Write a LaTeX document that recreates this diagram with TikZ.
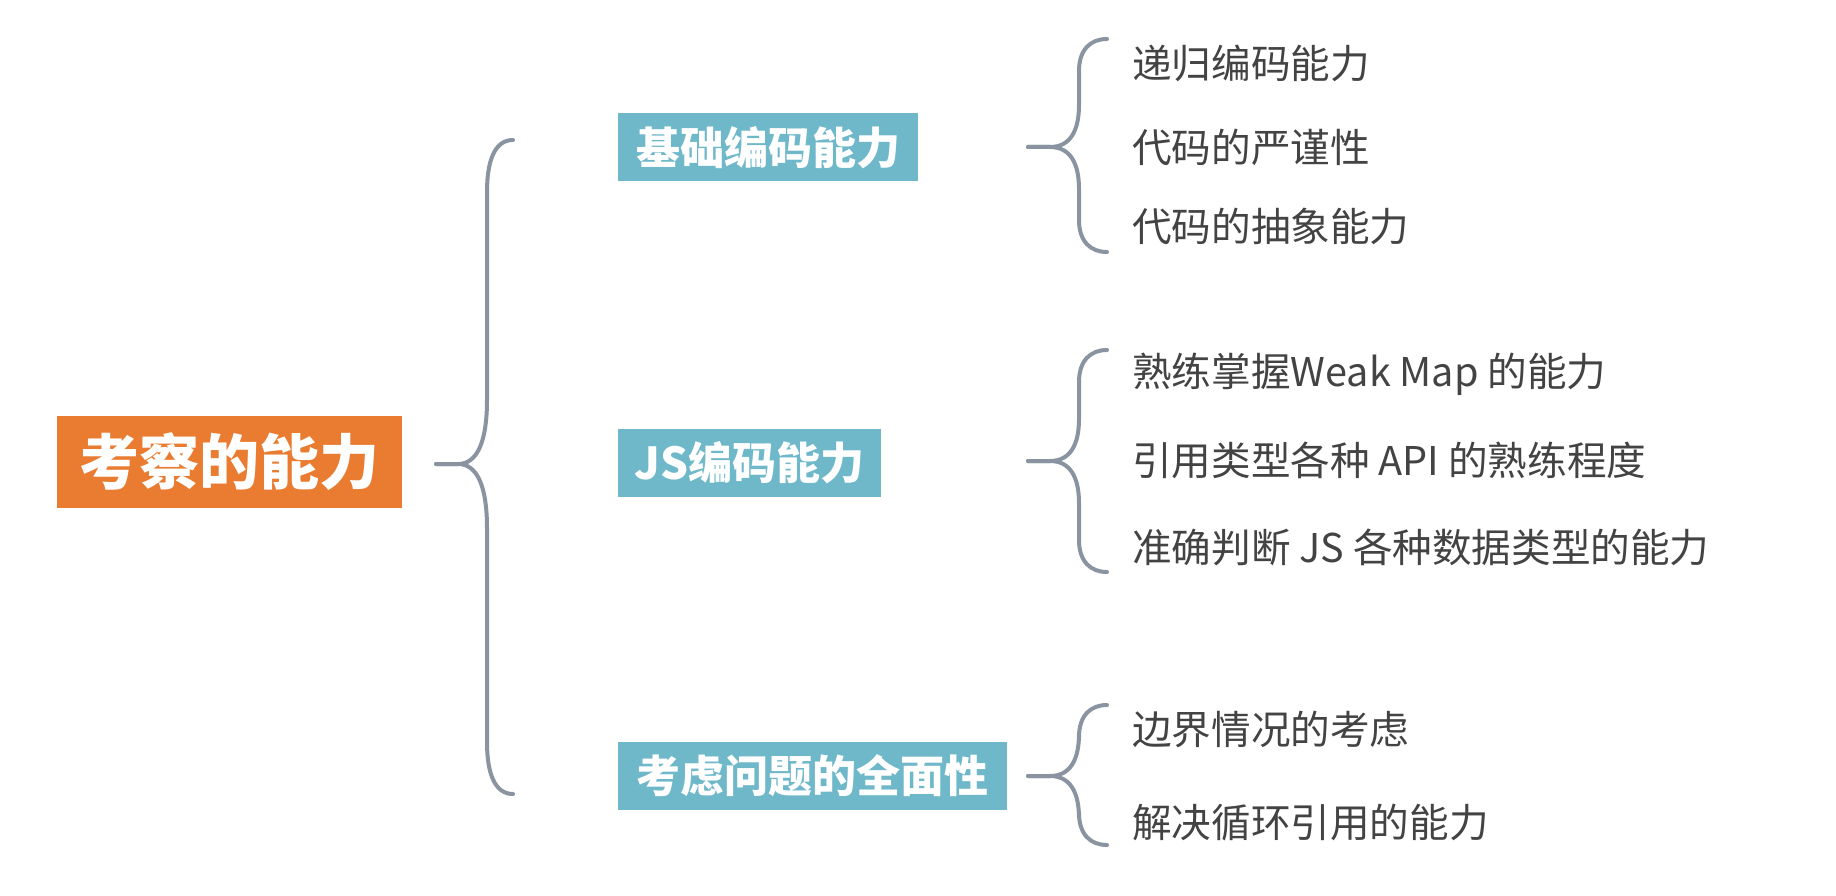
\documentclass[tikz,border=0pt]{standalone}
\usepackage{fontspec}
\newfontfamily\cjk{Noto Sans CJK SC}
\definecolor{orangebox}{HTML}{E97C30}
\definecolor{tealbox}{HTML}{6EB8CA}
\definecolor{leafgray}{HTML}{434343}
\definecolor{bracegray}{HTML}{8A93A0}
\tikzset{
  rootbox/.style={fill=orangebox, text=white, inner sep=0pt, minimum height=92pt,
    font=\cjk\bfseries\fontsize{60}{70}\selectfont},
  midbox/.style={fill=tealbox, text=white, inner sep=0pt, minimum height=68pt,
    font=\cjk\bfseries\fontsize{44}{52}\selectfont},
  leaf/.style={anchor=west, inner sep=0pt, text=leafgray,
    font=\cjk\fontsize{39.6}{46}\selectfont},
  bracel/.style={draw=bracegray, line width=4pt, line cap=round, line join=round}
}
\begin{document}
\begin{tikzpicture}[x=1pt,y=-1pt]
\useasboundingbox[fill=white] (0,0) rectangle (1836,896);
% root
\node[rootbox, minimum width=345pt] (root) at (229.5,462) {考察的能力};
% middle boxes
\node[midbox, minimum width=300pt] (b1) at (768,147.5) {基础编码能力};
\node[midbox, minimum width=263pt] (b2) at (749.5,463) {JS编码能力};
\node[midbox, minimum width=389pt] (b3) at (812.5,776) {考虑问题的全面性};
% leaves
\node[leaf] (l11) at (1132,63) {递归编码能力};
\node[leaf] (l12) at (1132,147) {代码的严谨性};
\node[leaf] (l13) at (1132,226) {代码的抽象能力};
\node[leaf] (l21) at (1132,374) {熟练掌握Weak Map 的能力};
\node[leaf] (l22) at (1132,460) {引用类型各种 API 的熟练程度};
\node[leaf] (l23) at (1132,547) {准确判断 JS 各种数据类型的能力};
\node[leaf] (l31) at (1132,729) {边界情况的考虑};
\node[leaf] (l32) at (1132,823) {解决循环引用的能力};
% big brace
\coordinate (t0) at (436,464);
\coordinate (e0a) at (513,140);
\coordinate (e0b) at (513,794);
\draw[bracel] (e0a) .. controls (495,140) and (487,160) .. (487,192)
  -- (487,400) .. controls (487,440) and (478,464) .. (458,464) -- (t0);
\draw[bracel] (t0) -- (458,464) .. controls (478,464) and (487,488) .. (487,528)
  -- (487,742) .. controls (487,774) and (495,794) .. (e0b);
% small braces: tip y / top y / bottom y
\foreach \n/\ty/\ta/\tb in {1/147/39/252, 2/461/350/572, 3/776/705/845}{
  \coordinate (t\n) at (1028,\ty);
  \coordinate (e\n a) at (1107,\ta);
  \coordinate (e\n b) at (1107,\tb);
  \draw[bracel] (e\n a) .. controls (1091,\ta) and (1079,\ta+10) .. (1079,\ta+32)
    -- (1079,\ty-42) .. controls (1079,\ty-16) and (1070,\ty) .. (1050,\ty) -- (t\n);
  \draw[bracel] (t\n) -- (1050,\ty) .. controls (1070,\ty) and (1079,\ty+16) .. (1079,\ty+42)
    -- (1079,\tb-32) .. controls (1079,\tb-10) and (1091,\tb) .. (e\n b);
}
\end{tikzpicture}
\end{document}
